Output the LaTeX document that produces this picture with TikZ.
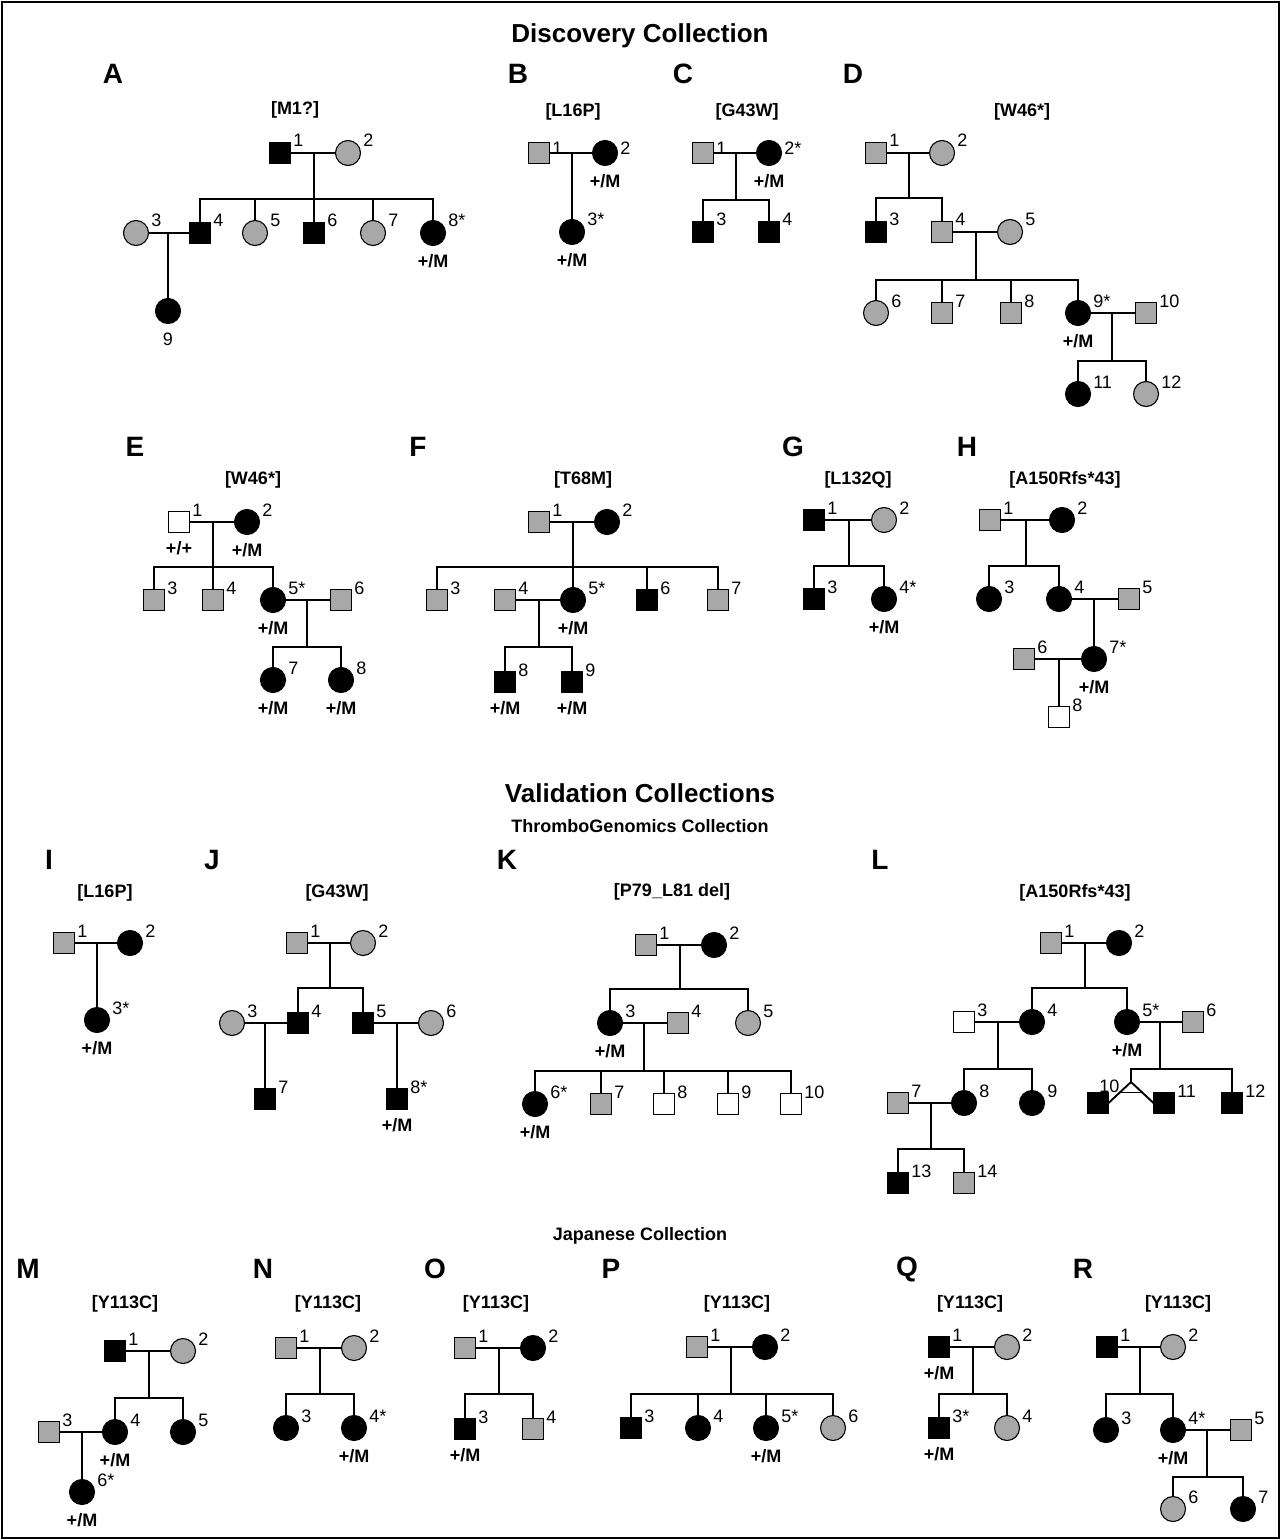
\documentclass[tikz,border=0pt]{standalone}
\usepackage{fontspec}
\setmainfont{Liberation Sans}
\usetikzlibrary{calc}

\definecolor{midgray}{gray}{0.66}

\begin{document}
\begin{tikzpicture}[
  x=0.5pt, y=-0.5pt,
  sym/.style={draw, line width=0.55pt, inner sep=0pt, outer sep=0pt},
  male/.style={sym, rectangle, minimum size=10.5pt},
  female/.style={sym, circle, minimum size=12.5pt},
  aff/.style={fill=black},
  unk/.style={fill=midgray},
  nor/.style={fill=white},
  num/.style={anchor=base west, inner sep=0pt, font=\fontsize{9}{10}\selectfont, xshift=1.2pt, yshift=3pt},
  numlow/.style={yshift=-4pt},
  geno/.style={anchor=center, inner sep=0pt, font=\bfseries\fontsize{9}{10}\selectfont, yshift=-8pt},
  mut/.style={inner sep=0pt, font=\bfseries\fontsize{9}{11}\selectfont},
  letter/.style={inner sep=0pt, font=\bfseries\fontsize{14}{16}\selectfont},
  head/.style={inner sep=0pt, font=\bfseries\fontsize{13}{15}\selectfont},
  subhead/.style={inner sep=0pt, font=\bfseries\fontsize{9}{11}\selectfont},
  link/.style={line width=0.95pt, line cap=rect}
]
\useasboundingbox (0,0) rectangle (1285,1540);
\draw[line width=1pt] (2,2) rectangle (1279,1538);

% headings
\node[head] (disc) at (640,36) {Discovery Collection};
\node[head] (valid) at (640,793) {Validation Collections};
\node[subhead] (thrombo) at (640,826) {ThromboGenomics Collection};
\node[subhead] (japan) at (640,1236) {Japanese Collection};

% A
\node[letter] (lA) at (113,74) {A};
\node[mut] (mA) at (295,110) {[M1?]};
\node[male, aff, label={[num]0:1}] (a1) at (280,153) {};
\node[female, unk, label={[num]0:2}] (a2) at (348,153) {};
\node[female, unk, label={[num]0:3}] (a3) at (136,233) {};
\node[male, aff, label={[num]0:4}] (a4) at (200,233) {};
\node[female, unk, label={[num]0:5}] (a5) at (255,233) {};
\node[male, aff, label={[num]0:6}] (a6) at (314,233) {};
\node[female, unk, label={[num]0:7}] (a7) at (373,233) {};
\node[female, aff, label={[num]0:8*}, label={[geno]-90:+/M}] (a8) at (433,233) {};
\node[female, aff, label={[geno, font=\fontsize{9}{10}\selectfont]-90:9}] (a9) at (168,311) {};
\draw[link] (a1) -- (a2) (a3) -- (a4);
\coordinate (a12) at ($(a1)!.5!(a2)$);
\coordinate (a12s) at (a12 |- 0,199);
\draw[link] (a12) -- (a12s) (a4 |- a12s) -- (a8 |- a12s);
\foreach \who in {a4,a5,a6,a7,a8} \draw[link] (\who |- a12s) -- (\who);
\draw[link] ($(a3)!.5!(a4)$) -- (a9);

% B
\node[letter] (lB) at (518,74) {B};
\node[mut] (mB) at (573,112) {[L16P]};
\node[male, unk, label={[num, numlow]0:1}] (b1) at (539,153) {};
\node[female, aff, label={[num, numlow]0:2}, label={[geno]-90:+/M}] (b2) at (605,153) {};
\node[female, aff, label={[num]0:3*}, label={[geno]-90:+/M}] (b3) at (572,232) {};
\draw[link] (b1) -- (b2) ($(b1)!.5!(b2)$) -- (b3);

% C
\node[letter] (lC) at (683,74) {C};
\node[mut] (mC) at (747,112) {[G43W]};
\node[male, unk, label={[num, numlow]0:1}] (c1) at (703,153) {};
\node[female, aff, label={[num, numlow]0:2*}, label={[geno]-90:+/M}] (c2) at (769,153) {};
\node[male, aff, label={[num]0:3}] (c3) at (703,232) {};
\node[male, aff, label={[num]0:4}] (c4) at (769,232) {};
\draw[link] (c1) -- (c2);
\coordinate (c12) at ($(c1)!.5!(c2)$);
\coordinate (c12s) at (c12 |- 0,200);
\draw[link] (c12) -- (c12s) (c3 |- c12s) -- (c4 |- c12s);
\foreach \who in {c3,c4} \draw[link] (\who |- c12s) -- (\who);

% D
\node[letter] (lD) at (853,74) {D};
\node[mut] (mD) at (1022,112) {[W46*]};
\node[male, unk, label={[num]0:1}] (d1) at (876,153) {};
\node[female, unk, label={[num]0:2}] (d2) at (942,153) {};
\node[male, aff, label={[num]0:3}] (d3) at (876,232) {};
\node[male, unk, label={[num]0:4}] (d4) at (942,232) {};
\node[female, unk, label={[num]0:5}] (d5) at (1010,232) {};
\node[female, unk, label={[num]0:6}] (d6) at (876,313) {};
\node[male, unk, label={[num]0:7}] (d7) at (942,313) {};
\node[male, unk, label={[num]0:8}] (d8) at (1011,313) {};
\node[female, aff, label={[num]0:9*}, label={[geno]-90:+/M}] (d9) at (1078,313) {};
\node[male, unk, label={[num]0:10}] (d10) at (1146,313) {};
\node[female, aff, label={[num]0:11}] (d11) at (1078,394) {};
\node[female, unk, label={[num]0:12}] (d12) at (1146,394) {};
\draw[link] (d1) -- (d2) (d4) -- (d5) (d9) -- (d10);
\coordinate (d12m) at ($(d1)!.5!(d2)$);
\coordinate (d12s) at (d12m |- 0,198);
\draw[link] (d12m) -- (d12s) (d3 |- d12s) -- (d4 |- d12s);
\foreach \who in {d3,d4} \draw[link] (\who |- d12s) -- (\who);
\coordinate (d45) at ($(d4)!.5!(d5)$);
\coordinate (d45s) at (d45 |- 0,280);
\draw[link] (d45) -- (d45s) (d6 |- d45s) -- (d9 |- d45s);
\foreach \who in {d6,d7,d8,d9} \draw[link] (\who |- d45s) -- (\who);
\coordinate (d910) at ($(d9)!.5!(d10)$);
\coordinate (d910s) at (d910 |- 0,361);
\draw[link] (d910) -- (d910s) (d11 |- d910s) -- (d12 |- d910s);
\foreach \who in {d11,d12} \draw[link] (\who |- d910s) -- (\who);

% E
\node[letter] (lE) at (135,447) {E};
\node[mut] (mE) at (253,480) {[W46*]};
\node[male, nor, label={[num]0:1}, label={[geno]-90:+/+}] (e1) at (179,522) {};
\node[female, aff, label={[num]0:2}, label={[geno]-90:+/M}] (e2) at (247,522) {};
\node[male, unk, label={[num]0:3}] (e3) at (154,600) {};
\node[male, unk, label={[num]0:4}] (e4) at (213,600) {};
\node[female, aff, label={[num]0:5*}, label={[geno]-90:+/M}] (e5) at (273,600) {};
\node[male, unk, label={[num]0:6}] (e6) at (341,600) {};
\node[female, aff, label={[num]0:7}, label={[geno]-90:+/M}] (e7) at (273,680) {};
\node[female, aff, label={[num]0:8}, label={[geno]-90:+/M}] (e8) at (341,680) {};
\draw[link] (e1) -- (e2) (e5) -- (e6);
\coordinate (e12) at ($(e1)!.5!(e2)$);
\coordinate (e12s) at (e12 |- 0,567);
\draw[link] (e12) -- (e12s) (e3 |- e12s) -- (e5 |- e12s);
\foreach \who in {e3,e4,e5} \draw[link] (\who |- e12s) -- (\who);
\coordinate (e56) at ($(e5)!.5!(e6)$);
\coordinate (e56s) at (e56 |- 0,647);
\draw[link] (e56) -- (e56s) (e7 |- e56s) -- (e8 |- e56s);
\foreach \who in {e7,e8} \draw[link] (\who |- e56s) -- (\who);

% F
\node[letter] (lF) at (418,447) {F};
\node[mut] (mF) at (583,480) {[T68M]};
\node[male, unk, label={[num]0:1}] (f1) at (539,522) {};
\node[female, aff, label={[num]0:2}] (f2) at (607,522) {};
\node[male, unk, label={[num]0:3}] (f3) at (437,600) {};
\node[male, unk, label={[num]0:4}] (f4) at (505,600) {};
\node[female, aff, label={[num]0:5*}, label={[geno]-90:+/M}] (f5) at (573,600) {};
\node[male, aff, label={[num]0:6}] (f6) at (647,600) {};
\node[male, unk, label={[num]0:7}] (f7) at (718,600) {};
\node[male, aff, label={[num]0:8}, label={[geno]-90:+/M}] (f8) at (505,682) {};
\node[male, aff, label={[num]0:9}, label={[geno]-90:+/M}] (f9) at (572,682) {};
\draw[link] (f1) -- (f2) (f4) -- (f5);
\coordinate (f12) at ($(f1)!.5!(f2)$);
\coordinate (f12s) at (f12 |- 0,567);
\draw[link] (f12) -- (f12s) (f3 |- f12s) -- (f7 |- f12s);
\foreach \who in {f3,f5,f6,f7} \draw[link] (\who |- f12s) -- (\who);
\coordinate (f45) at ($(f4)!.5!(f5)$);
\coordinate (f45s) at (f45 |- 0,647);
\draw[link] (f45) -- (f45s) (f8 |- f45s) -- (f9 |- f45s);
\foreach \who in {f8,f9} \draw[link] (\who |- f45s) -- (\who);

% G
\node[letter] (lG) at (793,447) {G};
\node[mut] (mG) at (858,480) {[L132Q]};
\node[male, aff, label={[num]0:1}] (g1) at (814,520) {};
\node[female, unk, label={[num]0:2}] (g2) at (884,520) {};
\node[male, aff, label={[num]0:3}] (g3) at (814,599) {};
\node[female, aff, label={[num]0:4*}, label={[geno]-90:+/M}] (g4) at (884,599) {};
\draw[link] (g1) -- (g2);
\coordinate (g12) at ($(g1)!.5!(g2)$);
\coordinate (g12s) at (g12 |- 0,566);
\draw[link] (g12) -- (g12s) (g3 |- g12s) -- (g4 |- g12s);
\foreach \who in {g3,g4} \draw[link] (\who |- g12s) -- (\who);

% H
\node[letter] (lH) at (967,447) {H};
\node[mut] (mH) at (1065,480) {[A150Rfs*43]};
\node[male, unk, label={[num]0:1}] (h1) at (990,520) {};
\node[female, aff, label={[num]0:2}] (h2) at (1062,520) {};
\node[female, aff, label={[num]0:3}] (h3) at (989,599) {};
\node[female, aff, label={[num]0:4}] (h4) at (1059,599) {};
\node[male, unk, label={[num]0:5}] (h5) at (1129,599) {};
\node[male, unk, label={[num]0:6}] (h6) at (1024,659) {};
\node[female, aff, label={[num]0:7*}, label={[geno]-90:+/M}] (h7) at (1094,659) {};
\node[male, nor, label={[num]0:8}] (h8) at (1059,717) {};
\draw[link] (h1) -- (h2) (h4) -- (h5) (h6) -- (h7);
\coordinate (h12) at ($(h1)!.5!(h2)$);
\coordinate (h12s) at (h12 |- 0,566);
\draw[link] (h12) -- (h12s) (h3 |- h12s) -- (h4 |- h12s);
\foreach \who in {h3,h4} \draw[link] (\who |- h12s) -- (\who);
\draw[link] ($(h4)!.5!(h5)$) -- (h7) ($(h6)!.5!(h7)$) -- (h8);

% I
\node[letter] (lI) at (49,860) {I};
\node[mut] (mI) at (105,893) {[L16P]};
\node[male, unk, label={[num]0:1}] (i1) at (64,943) {};
\node[female, aff, label={[num]0:2}] (i2) at (130,943) {};
\node[female, aff, label={[num]0:3*}, label={[geno]-90:+/M}] (i3) at (97,1020) {};
\draw[link] (i1) -- (i2) ($(i1)!.5!(i2)$) -- (i3);

% J
\node[letter] (lJ) at (212,860) {J};
\node[mut] (mJ) at (337,893) {[G43W]};
\node[male, unk, label={[num]0:1}] (j1) at (297,943) {};
\node[female, unk, label={[num]0:2}] (j2) at (363,943) {};
\node[female, unk, label={[num]0:3}] (j3) at (232,1023) {};
\node[male, aff, label={[num]0:4}] (j4) at (298,1023) {};
\node[male, aff, label={[num]0:5}] (j5) at (363,1023) {};
\node[female, unk, label={[num]0:6}] (j6) at (431,1023) {};
\node[male, aff, label={[num]0:7}] (j7) at (265,1099) {};
\node[male, aff, label={[num]0:8*}, label={[geno]-90:+/M}] (j8) at (397,1099) {};
\draw[link] (j1) -- (j2) (j3) -- (j4) (j5) -- (j6);
\coordinate (j12) at ($(j1)!.5!(j2)$);
\coordinate (j12s) at (j12 |- 0,988);
\draw[link] (j12) -- (j12s) (j4 |- j12s) -- (j5 |- j12s);
\foreach \who in {j4,j5} \draw[link] (\who |- j12s) -- (\who);
\draw[link] ($(j3)!.5!(j4)$) -- (j7) ($(j5)!.5!(j6)$) -- (j8);

% K
\node[letter] (lK) at (507,860) {K};
\node[mut] (mK) at (672,892) {[P79\_L81 del]};
\node[male, unk, label={[num]0:1}] (k1) at (646,945) {};
\node[female, aff, label={[num]0:2}] (k2) at (714,945) {};
\node[female, aff, label={[num]0:3}, label={[geno]-90:+/M}] (k3) at (610,1023) {};
\node[male, unk, label={[num]0:4}] (k4) at (678,1023) {};
\node[female, unk, label={[num]0:5}] (k5) at (748,1023) {};
\node[female, aff, label={[num]0:6*}, label={[geno]-90:+/M}] (k6) at (535,1104) {};
\node[male, unk, label={[num]0:7}] (k7) at (601,1104) {};
\node[male, nor, label={[num]0:8}] (k8) at (664,1104) {};
\node[male, nor, label={[num]0:9}] (k9) at (728,1104) {};
\node[male, nor, label={[num]0:10}] (k10) at (791,1104) {};
\draw[link] (k1) -- (k2) (k3) -- (k4);
\coordinate (k12) at ($(k1)!.5!(k2)$);
\coordinate (k12s) at (k12 |- 0,989);
\draw[link] (k12) -- (k12s) (k3 |- k12s) -- (k5 |- k12s);
\foreach \who in {k3,k5} \draw[link] (\who |- k12s) -- (\who);
\coordinate (k34) at ($(k3)!.5!(k4)$);
\coordinate (k34s) at (k34 |- 0,1071);
\draw[link] (k34) -- (k34s) (k6 |- k34s) -- (k10 |- k34s);
\foreach \who in {k6,k7,k8,k9,k10} \draw[link] (\who |- k34s) -- (\who);

% L
\node[letter] (lL) at (880,860) {L};
\node[mut] (mL) at (1075,893) {[A150Rfs*43]};
\node[male, unk, label={[num]0:1}] (l1) at (1051,943) {};
\node[female, aff, label={[num]0:2}] (l2) at (1119,943) {};
\node[male, nor, label={[num]0:3}] (l3) at (964,1022) {};
\node[female, aff, label={[num]0:4}] (l4) at (1032,1022) {};
\node[female, aff, label={[num]0:5*}, label={[geno]-90:+/M}] (l5) at (1127,1022) {};
\node[male, unk, label={[num]0:6}] (l6) at (1193,1022) {};
\node[male, unk, label={[num]0:7}] (l7) at (898,1103) {};
\node[female, aff, label={[num]0:8}] (l8) at (964,1103) {};
\node[female, aff, label={[num]0:9}] (l9) at (1032,1103) {};
\node[male, aff, label={[num, xshift=-6pt, yshift=2.5pt]0:10}] (l10) at (1098,1103) {};
\node[male, aff, label={[num]0:11}] (l11) at (1164,1103) {};
\node[male, aff, label={[num]0:12}] (l12) at (1232,1103) {};
\node[male, aff, label={[num]0:13}] (l13) at (898,1183) {};
\node[male, unk, label={[num]0:14}] (l14) at (964,1183) {};
\draw[link] (l1) -- (l2) (l3) -- (l4) (l5) -- (l6) (l7) -- (l8);
\coordinate (l12m) at ($(l1)!.5!(l2)$);
\coordinate (l12s) at (l12m |- 0,988);
\draw[link] (l12m) -- (l12s) (l4 |- l12s) -- (l5 |- l12s);
\foreach \who in {l4,l5} \draw[link] (\who |- l12s) -- (\who);
\coordinate (l34) at ($(l3)!.5!(l4)$);
\coordinate (l34s) at (l34 |- 0,1069);
\draw[link] (l34) -- (l34s) (l8 |- l34s) -- (l9 |- l34s);
\foreach \who in {l8,l9} \draw[link] (\who |- l34s) -- (\who);
\coordinate (l78) at ($(l7)!.5!(l8)$);
\coordinate (l78s) at (l78 |- 0,1149);
\draw[link] (l78) -- (l78s) (l13 |- l78s) -- (l14 |- l78s);
\foreach \who in {l13,l14} \draw[link] (\who |- l78s) -- (\who);
\coordinate (l56) at ($(l5)!.5!(l6)$);
\coordinate (l56s) at (l56 |- 0,1069);
\coordinate (ltw) at ($(l10)!.5!(l11) + (0,-21)$);
\draw[link] (l56) -- (l56s) (ltw |- l56s) -- (l12 |- l56s);
\draw[link] (ltw |- l56s) -- (ltw) (l12 |- l56s) -- (l12);
\draw[link] (l10.east) -- (ltw) -- (l11.west);
\draw[link] ($(ltw)!.5!(l10.east)$) -- ($(ltw)!.5!(l11.west)$);

% M
\node[letter] (lM) at (28,1269) {M};
\node[mut] (mM) at (125,1304) {[Y113C]};
\node[male, aff, label={[num]0:1}] (m1) at (115,1351) {};
\node[female, unk, label={[num]0:2}] (m2) at (183,1351) {};
\node[male, unk, label={[num]0:3}] (m3) at (49,1432) {};
\node[female, aff, label={[num]0:4}, label={[geno]-90:+/M}] (m4) at (115,1432) {};
\node[female, aff, label={[num]0:5}] (m5) at (183,1432) {};
\node[female, aff, label={[num]0:6*}, label={[geno]-90:+/M}] (m6) at (82,1492) {};
\draw[link] (m1) -- (m2) (m3) -- (m4);
\coordinate (m12) at ($(m1)!.5!(m2)$);
\coordinate (m12s) at (m12 |- 0,1398);
\draw[link] (m12) -- (m12s) (m4 |- m12s) -- (m5 |- m12s);
\foreach \who in {m4,m5} \draw[link] (\who |- m12s) -- (\who);
\draw[link] ($(m3)!.5!(m4)$) -- (m6);

% N
\node[letter] (lN) at (263,1269) {N};
\node[mut] (mN) at (328,1304) {[Y113C]};
\node[male, unk, label={[num]0:1}] (n1) at (286,1348) {};
\node[female, unk, label={[num]0:2}] (n2) at (354,1348) {};
\node[female, aff, label={[num]0:3}] (n3) at (286,1428) {};
\node[female, aff, label={[num]0:4*}, label={[geno]-90:+/M}] (n4) at (354,1428) {};
\draw[link] (n1) -- (n2);
\coordinate (n12) at ($(n1)!.5!(n2)$);
\coordinate (n12s) at (n12 |- 0,1394);
\draw[link] (n12) -- (n12s) (n3 |- n12s) -- (n4 |- n12s);
\foreach \who in {n3,n4} \draw[link] (\who |- n12s) -- (\who);

% O
\node[letter] (lO) at (435,1269) {O};
\node[mut] (mO) at (496,1304) {[Y113C]};
\node[male, unk, label={[num]0:1}] (o1) at (465,1348) {};
\node[female, aff, label={[num]0:2}] (o2) at (533,1348) {};
\node[male, aff, label={[num]0:3}, label={[geno]-90:+/M}] (o3) at (465,1429) {};
\node[male, unk, label={[num]0:4}] (o4) at (533,1429) {};
\draw[link] (o1) -- (o2);
\coordinate (o12) at ($(o1)!.5!(o2)$);
\coordinate (o12s) at (o12 |- 0,1394);
\draw[link] (o12) -- (o12s) (o3 |- o12s) -- (o4 |- o12s);
\foreach \who in {o3,o4} \draw[link] (\who |- o12s) -- (\who);

% P
\node[letter] (lP) at (611,1269) {P};
\node[mut] (mP) at (737,1304) {[Y113C]};
\node[male, unk, label={[num]0:1}] (p1) at (697,1347) {};
\node[female, aff, label={[num]0:2}] (p2) at (765,1347) {};
\node[male, aff, label={[num]0:3}] (p3) at (631,1428) {};
\node[female, aff, label={[num]0:4}] (p4) at (698,1428) {};
\node[female, aff, label={[num]0:5*}, label={[geno]-90:+/M}] (p5) at (766,1428) {};
\node[female, unk, label={[num]0:6}] (p6) at (833,1428) {};
\draw[link] (p1) -- (p2);
\coordinate (p12) at ($(p1)!.5!(p2)$);
\coordinate (p12s) at (p12 |- 0,1394);
\draw[link] (p12) -- (p12s) (p3 |- p12s) -- (p6 |- p12s);
\foreach \who in {p3,p4,p5,p6} \draw[link] (\who |- p12s) -- (\who);

% Q
\node[letter] (lQ) at (907,1269) {Q};
\node[mut] (mQ) at (970,1304) {[Y113C]};
\node[male, aff, label={[num]0:1}, label={[geno]-90:+/M}] (q1) at (939,1347) {};
\node[female, unk, label={[num]0:2}] (q2) at (1007,1347) {};
\node[male, aff, label={[num]0:3*}, label={[geno]-90:+/M}] (q3) at (939,1428) {};
\node[female, unk, label={[num]0:4}] (q4) at (1007,1428) {};
\draw[link] (q1) -- (q2);
\coordinate (q12) at ($(q1)!.5!(q2)$);
\coordinate (q12s) at (q12 |- 0,1394);
\draw[link] (q12) -- (q12s) (q3 |- q12s) -- (q4 |- q12s);
\foreach \who in {q3,q4} \draw[link] (\who |- q12s) -- (\who);

% R
\node[letter] (lR) at (1083,1269) {R};
\node[mut] (mR) at (1178,1304) {[Y113C]};
\node[male, aff, label={[num]0:1}] (r1) at (1107,1347) {};
\node[female, unk, label={[num]0:2}] (r2) at (1173,1347) {};
\node[female, aff, label={[num]0:3}] (r3) at (1106,1430) {};
\node[female, aff, label={[num]0:4*}, label={[geno]-90:+/M}] (r4) at (1173,1430) {};
\node[male, unk, label={[num]0:5}] (r5) at (1241,1430) {};
\node[female, unk, label={[num]0:6}] (r6) at (1173,1509) {};
\node[female, aff, label={[num]0:7}] (r7) at (1243,1509) {};
\draw[link] (r1) -- (r2) (r4) -- (r5);
\coordinate (r12) at ($(r1)!.5!(r2)$);
\coordinate (r12s) at (r12 |- 0,1394);
\draw[link] (r12) -- (r12s) (r3 |- r12s) -- (r4 |- r12s);
\foreach \who in {r3,r4} \draw[link] (\who |- r12s) -- (\who);
\coordinate (r45) at ($(r4)!.5!(r5)$);
\coordinate (r45s) at (r45 |- 0,1477);
\draw[link] (r45) -- (r45s) (r6 |- r45s) -- (r7 |- r45s);
\foreach \who in {r6,r7} \draw[link] (\who |- r45s) -- (\who);
\end{tikzpicture}
\end{document}
